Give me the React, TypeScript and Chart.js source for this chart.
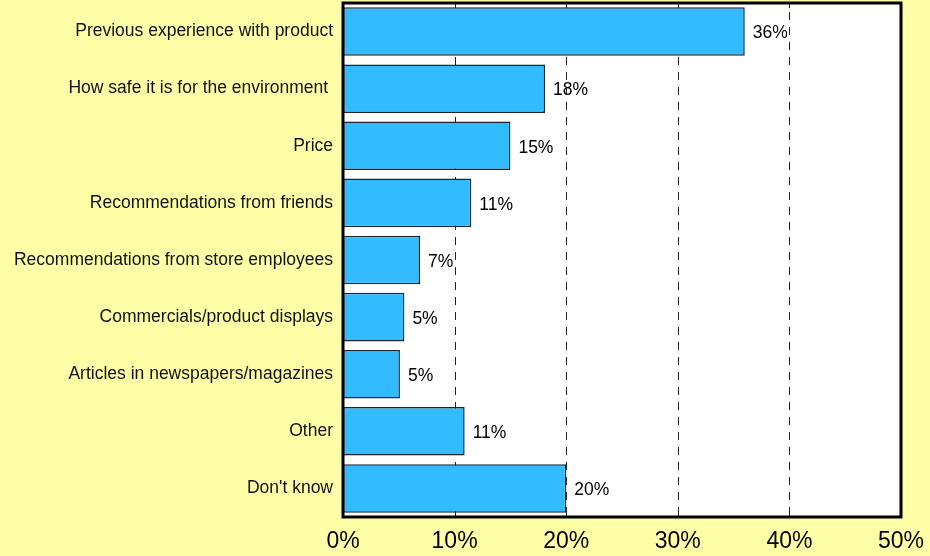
import React, { useEffect, useRef } from "react";
import { Chart, registerables } from "chart.js";

Chart.register(...registerables);

const categories = [
  "Previous experience with product",
  "How safe it is for the environment ",
  "Price",
  "Recommendations from friends",
  "Recommendations from store employees",
  "Commercials/product displays",
  "Articles in newspapers/magazines",
  "Other",
  "Don't know",
];
const values = [36, 18.1, 15, 11.5, 6.9, 5.5, 5.1, 10.9, 20];
const valueLabels = ["36%", "18%", "15%", "11%", "7%", "5%", "5%", "11%", "20%"];
const xTicks = [0, 10, 20, 30, 40, 50];

const FONT = "'Liberation Sans', Arial, Helvetica, sans-serif";

const bgPlugin = {
  id: "bgPlugin",
  beforeDraw(chart: any) {
    const { ctx, chartArea } = chart;
    ctx.save();
    ctx.fillStyle = "#FFFFA8";
    ctx.fillRect(0, 0, chart.width, chart.height);
    ctx.fillStyle = "#FFFFFF";
    ctx.fillRect(chartArea.left, chartArea.top, chartArea.right - chartArea.left, chartArea.bottom - chartArea.top);
    ctx.restore();
  },
  beforeDatasetsDraw(chart: any) {
    const { ctx, chartArea } = chart;
    const xs = chart.scales.x;
    ctx.save();
    ctx.strokeStyle = "#222";
    ctx.lineWidth = 1;
    xTicks.forEach((v) => {
      if (v === xTicks[0] || v === xTicks[xTicks.length - 1]) return;
      const x = Math.round(xs.getPixelForValue(v)) + 0.5;
      ctx.setLineDash([8, 7]);
      ctx.beginPath();
      ctx.moveTo(x, chartArea.top + 9);
      ctx.lineTo(x, chartArea.bottom);
      ctx.stroke();
      ctx.setLineDash([]);
      ctx.beginPath();
      ctx.moveTo(x, chartArea.top);
      ctx.lineTo(x, chartArea.top + 5);
      ctx.moveTo(x, chartArea.bottom - 5);
      ctx.lineTo(x, chartArea.bottom);
      ctx.stroke();
    });
    ctx.restore();
  },
  afterDraw(chart: any) {
    const { ctx, chartArea } = chart;
    ctx.save();
    ctx.strokeStyle = "#000";
    ctx.lineWidth = 3;
    ctx.strokeRect(chartArea.left, chartArea.top, chartArea.right - chartArea.left, chartArea.bottom - chartArea.top);
    ctx.restore();
  },
  afterDatasetsDraw(chart: any) {
    const { ctx } = chart;
    const meta = chart.getDatasetMeta(0);
    ctx.save();
    ctx.fillStyle = "#000";
    ctx.font = `17.5px ${FONT}`;
    ctx.textAlign = "left";
    ctx.textBaseline = "middle";
    meta.data.forEach((bar: any, i: number) => {
      ctx.fillText(valueLabels[i], bar.x + 8, bar.y + 2);
    });
    ctx.restore();
  },
};

export default function App() {
  const ref = useRef<HTMLCanvasElement | null>(null);
  useEffect(() => {
    if (!ref.current) return;
    const chart = new Chart(ref.current, {
      type: "bar",
      data: {
        labels: categories,
        datasets: [
          {
            data: values,
            backgroundColor: "#33BBFF",
            borderColor: "#1A2630",
            borderWidth: 1.5,
            borderSkipped: false,
            categoryPercentage: 1,
            barPercentage: 0.85,
          },
        ],
      },
      options: {
        indexAxis: "y",
        animation: false,
        responsive: false,
        maintainAspectRatio: false,
        layout: { padding: { top: 3, right: 29, left: 0, bottom: 0 } },
        plugins: { legend: { display: false }, tooltip: { enabled: false } },
        scales: {
          x: {
            min: 0,
            max: 50,
            afterBuildTicks(scale: any) {
              scale.ticks = xTicks.map((v) => ({ value: v }));
            },
            afterFit(scale: any) {
              scale.height = 39;
              scale.paddingLeft = 0;
              scale.paddingRight = 0;
              scale.paddingTop = 0;
              scale.paddingBottom = 0;
            },
            ticks: {
              color: "#000",
              font: { family: FONT, size: 23 },
              padding: 11,
              callback: (v: any) => `${v}%`,
              maxRotation: 0,
              autoSkip: false,
            },
            grid: { display: false, drawTicks: false },
            border: { display: false },
          },
          y: {
            afterFit(scale: any) {
              scale.width = 343;
              scale.paddingLeft = 0;
              scale.paddingRight = 0;
              scale.paddingTop = 0;
              scale.paddingBottom = 0;
            },
            ticks: {
              color: "#111",
              font: { family: FONT, size: 17.5 },
              padding: 10,
              autoSkip: false,
            },
            grid: { display: false, drawTicks: false },
            border: { display: false },
          },
        },
      },
      plugins: [bgPlugin],
    } as any);
    return () => chart.destroy();
  }, []);
  return (
    <div style={{ position: "absolute", left: 0, top: 0, width: 930, height: 556 }}>
      <canvas ref={ref} width={930} height={556} style={{ width: 930, height: 556 }} />
    </div>
  );
}
